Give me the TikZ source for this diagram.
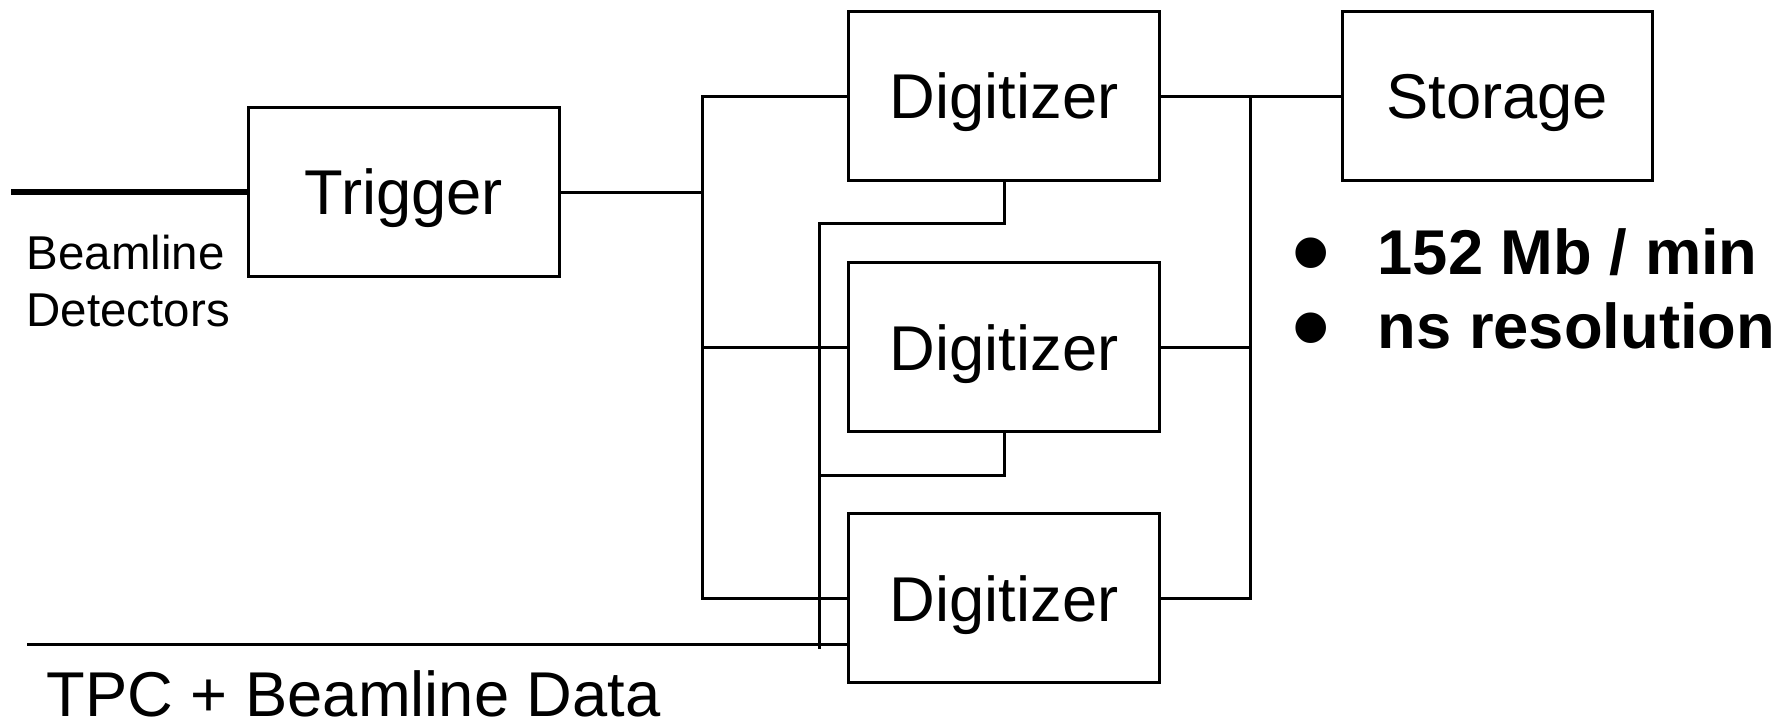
\documentclass[tikz,border=0pt]{standalone}
\usepackage{fontspec}
\setmainfont{Liberation Sans}
\usetikzlibrary{positioning}

\begin{document}
\begin{tikzpicture}[
        x=0.01cm, y=-0.01cm,
        node distance=0.79cm and 1.80cm,
        bloque/.style={draw, line width=0.85pt, align=center, minimum width=3.1cm, minimum height=1.69cm, inner sep=0pt, text depth=0pt, font=\fontsize{18}{21}\selectfont},
        cable/.style={line width=0.85pt},
        haz/.style={line width=1.8pt},
        nota/.style={font=\fontsize{18}{21}\selectfont\bfseries, inner sep=0pt},
        punto/.style={font=\fontsize{32}{32}\selectfont, inner sep=0pt, text height=3.5mm, text depth=0pt}
    ]
        \useasboundingbox (0,0) rectangle (1785,726);
        \node[bloque] (trig) at (404,192) {Trigger};
        \node[bloque] (dig1) at (1004,96) {Digitizer};
        \node[bloque, below=of dig1] (dig2) {Digitizer};
        \node[bloque, below=of dig2] (dig3) {Digitizer};
        \node[bloque, right=of dig1] (stor) {Storage};

        \coordinate (haz0) at (11,192);
        \coordinate (busa) at (702,0);
        \coordinate (busb) at (1250,0);
        \coordinate (ret1) at (819,223);
        \coordinate (ret2) at (819,475);
        \coordinate (ret3) at (819,649);
        \coordinate (tpc) at (27,644);

        \node[anchor=north west, inner sep=0pt, align=left, font=\fontsize{13.5}{16.2}\selectfont] (beam) at (26,234) {Beamline\\Detectors};
        \node[anchor=base west, inner sep=0pt, font=\fontsize{18}{21}\selectfont] (datos) at (46,716) {TPC + Beamline Data};
        \node[punto, anchor=base] (b1) at (1311,290) {•};
        \node[punto, anchor=base] (b2) at (1311,365) {•};
        \node[nota, anchor=base west] (tasa) at (1377,274) {152 Mb / min};
        \node[nota, anchor=base west] (resol) at (1377,348) {ns resolution};

        \draw[haz] (haz0) -- (trig);
        \draw[cable] (trig) -- (busa |- trig);
        \draw[cable] (dig1.west) -| (busa |- dig3.west) -- (dig3.west);
        \draw[cable] (dig2.west) -- (busa |- dig2.west);
        \draw[cable] (dig1.south) |- (ret1) -- (ret3);
        \draw[cable] (dig2.south) |- (ret2);
        \draw[cable] (tpc) -- (tpc -| dig3.west);
        \draw[cable] (dig1) -- (stor);
        \draw[cable] (dig2.east) -- (busb |- dig2.east);
        \draw[cable] (dig3.east) -| (busb |- dig1.east);
    \end{tikzpicture}
\end{document}
